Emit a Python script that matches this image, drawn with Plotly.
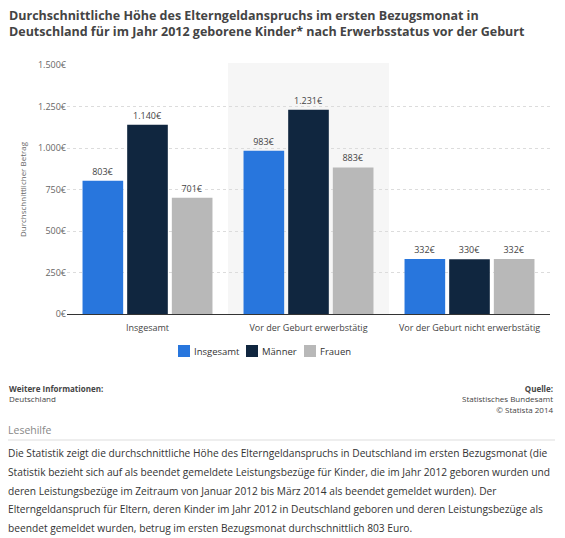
import plotly.graph_objects as go

categories = ["Insgesamt", "Vor der Geburt erwerbstätig", "Vor der Geburt nicht erwerbstätig"]
series_names = ["Insgesamt", "Männer", "Frauen"]
insgesamt = [803, 983, 332]
maenner = [1140, 1231, 330]
frauen = [701, 883, 332]
series_values = [insgesamt, maenner, frauen]
colors = ["#2876dd", "#10263f", "#b8b8b8"]
y_ticks = [0, 250, 500, 750, 1000, 1250, 1500]
para_lines = [
    "Die Statistik zeigt die durchschnittliche Höhe des Elterngeldanspruchs in Deutschland im ersten Bezugsmonat (die",
    "Statistik bezieht sich auf als beendet gemeldete Leistungsbezüge für Kinder, die im Jahr 2012 geboren wurden und",
    "deren Leistungsbezüge im Zeitraum von Januar 2012 bis März 2014 als beendet gemeldet wurden). Der",
    "Elterngeldanspruch für Eltern, deren Kinder im Jahr 2012 in Deutschland geboren und deren Leistungsbezüge als",
    "beendet gemeldet wurden, betrug im ersten Bezugsmonat durchschnittlich 803 Euro.",
]

OFF = 8  # page body margin
W, H = 565 - OFF, 538 - OFF
L, R, T = 67 - OFF, 15, 65 - OFF
B = H - (314 - OFF)
PW, PH = W - L - R, H - T - B


def eur(v):
    return f"{v:,}".replace(",", ".") + "€"


def px(x):
    return (x - OFF - L) / PW


def py(y):
    return (H - B - (y - OFF)) / PH


FONT = "Open Sans"
fig = go.Figure()
for name, vals, col in zip(series_names, series_values, colors):
    fig.add_trace(go.Bar(
        name=name, x=categories, y=vals, marker=dict(color=col, line=dict(width=0)),
        text=[eur(v) for v in vals], textposition="outside", cliponaxis=False,
        textfont=dict(family=FONT, size=9, color="#444"), showlegend=False,
    ))

fig.update_layout(
    width=W, height=H, margin=dict(l=L, r=R, t=T, b=B, autoexpand=False),
    paper_bgcolor="white", plot_bgcolor="white",
    barmode="group", bargap=0.168, bargroupgap=0.09,
    font=dict(family=FONT, color="#444"),
    xaxis=dict(range=[-0.5, 2.5], showline=True, linecolor="#333", linewidth=1.2,
               ticks="outside", ticklen=5, tickcolor="rgba(0,0,0,0)",
               tickfont=dict(family=FONT, size=9, color="#444"), showgrid=False, fixedrange=True),
    yaxis=dict(range=[0, 1500], tickvals=y_ticks, ticktext=[eur(v) for v in y_ticks],
               tickfont=dict(family=FONT, size=9, color="#666"), showgrid=True, gridcolor="#dcdcdc",
               griddash="dot", gridwidth=1, zeroline=False, showline=False, ticks="",
               title=dict(text="Durchschnittlicher Betrag", font=dict(family=FONT, size=8, color="#666"), standoff=10)),
)

fig.add_shape(type="rect", xref="x", yref="paper", x0=0.5, x1=1.5, y0=0, y1=py(63),
              fillcolor="#f6f6f6", line=dict(width=0), layer="below")

# custom compact legend
legend_x = [178, 246, 304]
for name, col, lx in zip(series_names, colors, legend_x):
    fig.add_shape(type="rect", xref="paper", yref="paper", x0=px(lx), x1=px(lx + 12),
                  y0=py(357), y1=py(345), fillcolor=col, line=dict(width=0))
    fig.add_annotation(xref="paper", yref="paper", x=px(lx + 14), y=py(351), xanchor="left",
                       yanchor="middle", text=name, showarrow=False,
                       font=dict(family=FONT, size=9.5, color="#333"))

fig.add_annotation(xref="paper", yref="paper", x=px(7), y=py(5), xanchor="left", yanchor="top",
                   text="<b>Durchschnittliche Höhe des Elterngeldanspruchs im ersten Bezugsmonat in<br>Deutschland für im Jahr 2012 geborene Kinder* nach Erwerbsstatus vor der Geburt</b>",
                   showarrow=False, align="left", font=dict(family=FONT, size=12.5, color="#444"))

fig.add_annotation(xref="paper", yref="paper", x=px(7), y=py(381), xanchor="left", yanchor="top",
                   text="<b>Weitere Informationen:</b><br>Deutschland", showarrow=False, align="left",
                   font=dict(family=FONT, size=8, color="#444"))
fig.add_annotation(xref="paper", yref="paper", x=px(555), y=py(381), xanchor="right", yanchor="top",
                   text="<b>Quelle:</b><br>Statistisches Bundesamt<br>© Statista 2014", showarrow=False, align="right",
                   font=dict(family=FONT, size=8, color="#444"))
fig.add_annotation(xref="paper", yref="paper", x=px(6), y=py(421), xanchor="left", yanchor="top",
                   text="Lesehilfe", showarrow=False, align="left",
                   font=dict(family=FONT, size=10.5, color="#888"))
fig.add_shape(type="line", xref="paper", yref="paper", x0=px(7), x1=px(555), y0=py(440), y1=py(440),
              line=dict(color="#ddd", width=1))
for i, line in enumerate(para_lines):
    fig.add_annotation(xref="paper", yref="paper", x=px(6), y=py(453 + 18.8 * i), xanchor="left",
                       yanchor="middle", text=line, showarrow=False, align="left",
                       font=dict(family=FONT, size=10.2, color="#333"))

fig.write_html("out.html")
